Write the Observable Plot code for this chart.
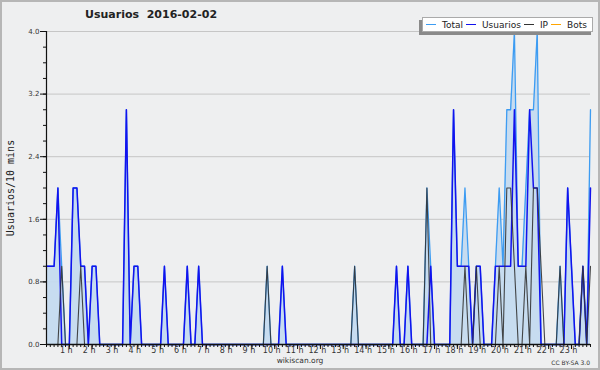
<!DOCTYPE html>
<html><head><meta charset="utf-8">
<script src="https://cdn.jsdelivr.net/npm/d3@7"></script>
<script src="https://cdn.jsdelivr.net/npm/@observablehq/plot@0.6"></script>
<style>
html,body{margin:0;padding:0;background:#eeeff0;}
#wrap{position:relative;width:600px;height:370px;overflow:hidden;background:#eeeff0;font-family:"DejaVu Sans",sans-serif;color:#222;}
#chart{position:absolute;left:0;top:0;}
#frame{position:absolute;left:0;top:0;width:600px;height:370px;box-sizing:border-box;border:2px solid #b6b6b6;pointer-events:none;}
#title{position:absolute;left:85px;top:8px;font-weight:bold;font-size:11px;white-space:pre;color:#222;}
#ylab{position:absolute;left:10px;top:188px;transform:translate(-50%,-50%) rotate(-90deg);font-family:"DejaVu Sans Mono",monospace;font-size:10px;white-space:pre;color:#222;}
#site{position:absolute;left:300px;top:356px;transform:translateX(-50%);font-size:7.5px;color:#333;}
#cc{position:absolute;right:10px;top:359px;font-size:6px;color:#333;}
#legshadow{position:absolute;left:419px;top:20px;width:172px;height:15px;background:#8a8a8a;}
#legend{position:absolute;left:422px;top:17px;width:171px;height:15px;box-sizing:border-box;background:#fff;border:1px solid #aaa;display:flex;align-items:center;padding-left:3px;font-size:9px;color:#222;}
#legend .sw{display:inline-block;width:10px;height:1.5px;margin-right:6px;}
#legend .tx{margin-right:3px;white-space:pre;}
</style></head>
<body>
<div id="wrap">
  <div id="chart"></div>
  <div id="title"></div>
  <div id="ylab"></div>
  <div id="legshadow"></div>
  <div id="legend"></div>
  <div id="site"></div>
  <div id="cc"></div>
  <div id="frame"></div>
</div>
<script>
// ---- data (10-minute steps, one row per hour) ----
const titleText = "Usuarios  2016-02-02";
const yTitle = "Usuarios/10 mins";
const siteText = "wikiscan.org";
const licenseText = "CC BY-SA 3.0";
const seriesNames = ["Total", "Usuarios", "IP", "Bots"];
const seriesColors = ["#3d9cf2", "#1212ee", "#333333", "#ffa500"];
const hourLabels = ["1 h","2 h","3 h","4 h","5 h","6 h","7 h","8 h","9 h","10 h","11 h","12 h",
  "13 h","14 h","15 h","16 h","17 h","18 h","19 h","20 h","21 h","22 h","23 h"];
const yTickValues = [0, 0.8, 1.6, 2.4, 3.2, 4.0];
const yMinorTicks = [0,0.2,0.4,0.6,0.8,1.0,1.2,1.4,1.6,1.8,2.0,2.2,2.4,2.6,2.8,3.0,3.2,3.4,3.6,3.8,4.0];

const total = [
  1,1,1,2,1,0,  0,2,2,1,1,0,  1,1,0,0,0,0,  0,0,0,3,0,1,
  1,0,0,0,0,0,  0,1,0,0,0,0,  0,1,0,0,1,0,  0,0,0,0,0,0,
  0,0,0,0,0,0,  0,0,0,0,1,0,  0,0,1,0,0,0,  0,0,0,0,0,0,
  0,0,0,0,0,0,  0,0,0,1,0,0,  0,0,0,0,0,0,  0,0,1,0,0,1,
  0,0,0,0,2,1,  0,0,0,0,0,3,  1,1,2,1,0,1,  1,0,0,0,1,2,
  1,3,3,4,1,1,  2,3,3,4,0,0,  0,0,0,1,0,2,  1,0,0,1,0,3
];
const usuarios = [
  1,1,1,2,0,0,  0,2,2,1,1,0,  1,1,0,0,0,0,  0,0,0,3,0,1,
  1,0,0,0,0,0,  0,1,0,0,0,0,  0,1,0,0,1,0,  0,0,0,0,0,0,
  0,0,0,0,0,0,  0,0,0,0,0,0,  0,0,1,0,0,0,  0,0,0,0,0,0,
  0,0,0,0,0,0,  0,0,0,0,0,0,  0,0,0,0,0,0,  0,0,1,0,0,1,
  0,0,0,0,0,1,  0,0,0,0,0,3,  1,1,1,1,0,1,  1,0,0,0,1,1,
  1,1,1,3,1,1,  1,3,2,2,0,0,  0,0,0,0,0,2,  1,0,0,1,0,2
];
const ip = [
  0,0,0,0,1,0,  0,0,0,1,0,0,  0,0,0,0,0,0,  0,0,0,0,0,0,
  0,0,0,0,0,0,  0,0,0,0,0,0,  0,0,0,0,0,0,  0,0,0,0,0,0,
  0,0,0,0,0,0,  0,0,0,0,1,0,  0,0,0,0,0,0,  0,0,0,0,0,0,
  0,0,0,0,0,0,  0,0,0,1,0,0,  0,0,0,0,0,0,  0,0,0,0,0,0,
  0,0,0,0,2,0,  0,0,0,0,0,0,  0,0,1,0,0,1,  0,0,0,0,0,1,
  0,2,2,1,0,0,  1,0,2,2,1,0,  0,0,0,1,0,0,  0,0,0,1,0,1
];
const bots = [
  0,0,0,0,0,0,  0,0,0,0,0,0,  0,0,0,0,0,0,  0,0,0,0,0,0,
  0,0,0,0,0,0,  0,0,0,0,0,0,  0,0,0,0,0,0,  0,0,0,0,0,0,
  0,0,0,0,0,0,  0,0,0,0,0,0,  0,0,0,0,0,0,  0,0,0,0,0,0,
  0,0,0,0,0,0,  0,0,0,0,0,0,  0,0,0,0,0,0,  0,0,0,0,0,0,
  0,0,0,0,0,0,  0,0,0,0,0,0,  0,0,0,0,0,0,  0,0,0,0,0,0,
  0,0,0,0,0,0,  0,0,0,0,0,0,  0,0,0,0,0,0,  0,0,0,0,0,0
];

// ---- table ----
const data = total.map((t, i) => ({i, total: t, usuarios: usuarios[i], ip: ip[i], bots: bots[i]}));
const slots = data.map(d => d.i);
const hourSlots = hourLabels.map((_, k) => (k + 1) * 6);

const chart = Plot.plot({
  width: 600, height: 370,
  marginLeft: 46, marginRight: 10, marginTop: 31, marginBottom: 26,
  style: {background: "transparent", fontFamily: "DejaVu Sans", color: "#333", overflow: "visible"},
  x: {domain: [0, slots.length - 1], axis: null},
  y: {domain: [0, 4], axis: null},
  marks: [
    Plot.gridY(yTickValues.slice(1), {stroke: "#c6c6c6", strokeOpacity: 1, strokeWidth: 1}),
    Plot.areaY(data, {x: "i", y: "total", fill: "#c3daf0", fillOpacity: 0.92}),
    Plot.lineY(data, {x: "i", y: "bots", stroke: seriesColors[3], strokeWidth: 1.2}),
    Plot.lineY(data, {x: "i", y: "total", stroke: seriesColors[0], strokeWidth: 1.3}),
    Plot.lineY(data, {x: "i", y: "usuarios", stroke: seriesColors[1], strokeWidth: 1.5}),
    Plot.lineY(data, {x: "i", y: "ip", stroke: seriesColors[2], strokeWidth: 1.1, strokeOpacity: 0.9}),
    Plot.axisY(yMinorTicks, {tickSize: 3, tickFormat: () => "", label: null, stroke: "#111"}),
    Plot.axisY(yTickValues, {tickSize: 6, tickPadding: 1, tickFormat: d3.format(".1f"), fontSize: 7, label: null, stroke: "#111", fill: "#333"}),
    Plot.axisX(slots, {tickSize: 3, tickFormat: () => "", label: null, stroke: "#111"}),
    Plot.axisX(hourSlots, {tickSize: 5, tickFormat: () => "", label: null, stroke: "#111"}),
    Plot.axisX(hourSlots, {tickSize: 0, tickPadding: 3, dx: -3, tickFormat: d => hourLabels[d / 6 - 1], fontSize: 8, label: null, fill: "#333"}),
    Plot.ruleX([0], {stroke: "#111", strokeWidth: 1.2}),
    Plot.ruleY([0], {stroke: "#111", strokeWidth: 1.4})
  ]
});
document.getElementById("chart").appendChild(chart);

document.getElementById("title").textContent = titleText;
document.getElementById("ylab").textContent = yTitle;
document.getElementById("site").textContent = siteText;
document.getElementById("cc").textContent = licenseText;
const leg = document.getElementById("legend");
seriesNames.forEach((name, k) => {
  const sw = document.createElement("span");
  sw.className = "sw"; sw.style.background = seriesColors[k];
  const tx = document.createElement("span");
  tx.className = "tx"; tx.textContent = name;
  leg.appendChild(sw); leg.appendChild(tx);
});
</script>
</body></html>
